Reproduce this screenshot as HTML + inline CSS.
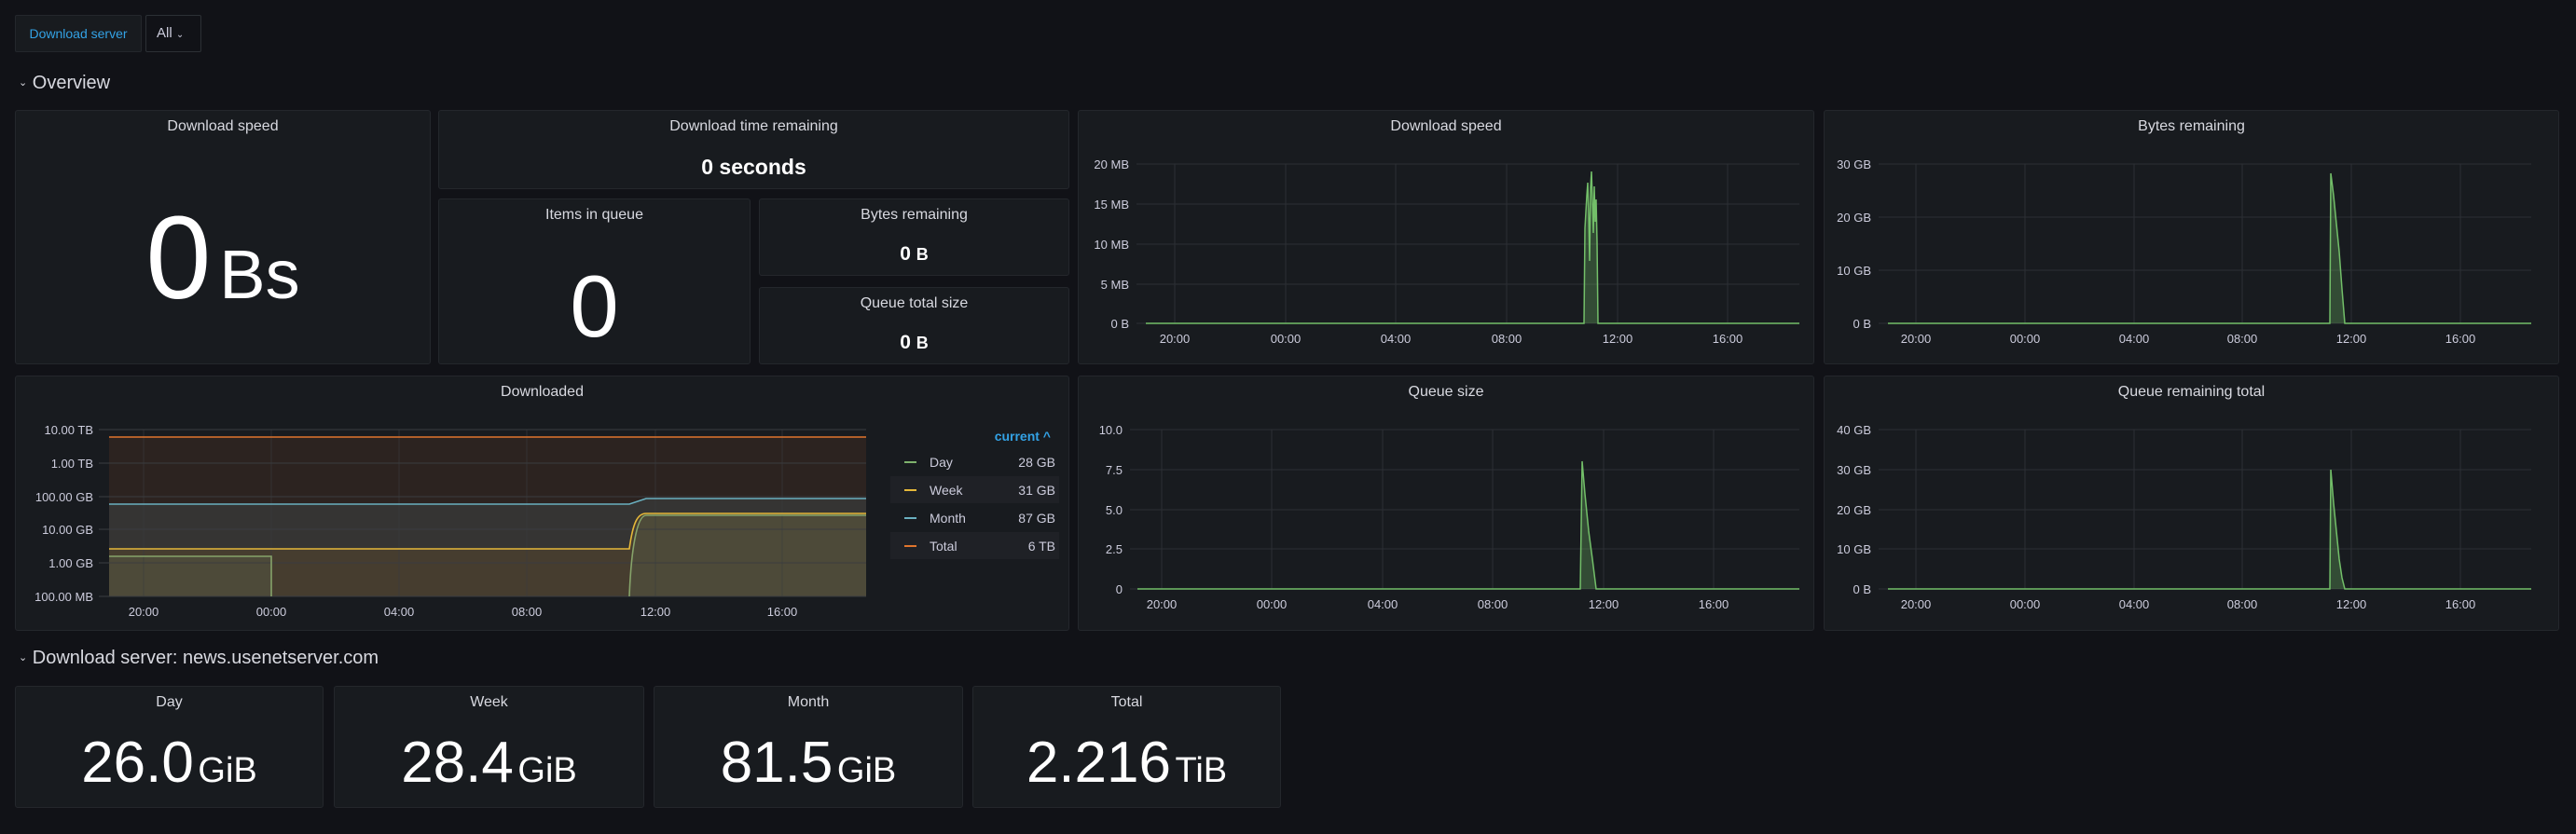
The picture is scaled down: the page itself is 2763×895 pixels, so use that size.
<!DOCTYPE html>
<html><head><meta charset="utf-8"><style>
*{margin:0;padding:0;box-sizing:border-box}
body{width:2763px;height:895px;background:#111217;font-family:"Liberation Sans",sans-serif;color:#ccccdc;position:relative;overflow:hidden}
.p{position:absolute;background:#181b1f;border:1px solid #24272c;border-radius:3px}
.t{position:absolute;left:0;right:0;text-align:center;font-size:16px;color:#d8d9e0}
.v{position:absolute;left:0;right:0;text-align:center;color:#fff;white-space:nowrap}
.a{position:absolute;white-space:nowrap}
.u{margin-left:0.12em}
</style></head><body>
<div class="a" style="left:16px;top:16px;width:136px;height:40px;background:#181b1f;border:1px solid #24272c;border-radius:2px;color:#33a2e5;font-size:14px;line-height:38px;text-align:center">Download server</div>
<div class="a" style="left:156px;top:16px;width:60px;height:40px;background:#111217;border:1px solid #2c3035;border-radius:2px;color:#ccccdc;font-size:15px;line-height:38px;padding-left:11px">All <span style="font-size:10px">&#8964;</span></div>
<div class="a" style="left:20px;top:78px;font-size:20px;color:#d8d9e0"><span style="font-size:11px;vertical-align:3px">&#8964;</span> Overview</div>
<div class="a" style="left:20px;top:695px;font-size:20px;color:#d8d9e0"><span style="font-size:11px;vertical-align:3px">&#8964;</span> Download server: news.usenetserver.com</div>

<div class="p" style="left:16px;top:118px;width:446px;height:273px"><div class="t" style="top:8px">Download speed</div>
<div class="v" style="top:88px;font-size:126px;line-height:140px">0<span class="u" style="font-size:74px">Bs</span></div></div>
<div class="p" style="left:470px;top:118px;width:677px;height:85px"><div class="t" style="top:8px">Download time remaining</div>
<div class="v" style="top:47px;font-size:23px;font-weight:bold">0 seconds</div></div>
<div class="p" style="left:470px;top:213px;width:335px;height:178px"><div class="t" style="top:8px">Items in queue</div>
<div class="v" style="top:60px;font-size:94px;line-height:110px">0</div></div>
<div class="p" style="left:814px;top:213px;width:333px;height:83px"><div class="t" style="top:8px">Bytes remaining</div>
<div class="v" style="top:47px;font-size:21px;font-weight:bold">0 <span style="font-size:18px">B</span></div></div>
<div class="p" style="left:814px;top:308px;width:333px;height:83px"><div class="t" style="top:8px">Queue total size</div>
<div class="v" style="top:47px;font-size:21px;font-weight:bold">0 <span style="font-size:18px">B</span></div></div>
<div class="p" style="left:1156px;top:118px;width:790px;height:273px"><div class="t" style="top:8px">Download speed</div></div>
<div class="p" style="left:1956px;top:118px;width:789px;height:273px"><div class="t" style="top:8px">Bytes remaining</div></div>
<div class="p" style="left:16px;top:403px;width:1131px;height:274px"><div class="t" style="top:8px">Downloaded</div></div>
<div class="p" style="left:1156px;top:403px;width:790px;height:274px"><div class="t" style="top:8px">Queue size</div></div>
<div class="p" style="left:1956px;top:403px;width:789px;height:274px"><div class="t" style="top:8px">Queue remaining total</div></div>

<div class="p" style="left:16px;top:736px;width:331px;height:131px"><div class="t" style="top:8px">Day</div><div class="v" style="top:47px;font-size:62px;line-height:70px">26.0<span class="u" style="font-size:38px">GiB</span></div></div>
<div class="p" style="left:358px;top:736px;width:333px;height:131px"><div class="t" style="top:8px">Week</div><div class="v" style="top:47px;font-size:62px;line-height:70px">28.4<span class="u" style="font-size:38px">GiB</span></div></div>
<div class="p" style="left:701px;top:736px;width:332px;height:131px"><div class="t" style="top:8px">Month</div><div class="v" style="top:47px;font-size:62px;line-height:70px">81.5<span class="u" style="font-size:38px">GiB</span></div></div>
<div class="p" style="left:1043px;top:736px;width:331px;height:131px"><div class="t" style="top:8px">Total</div><div class="v" style="top:47px;font-size:62px;line-height:70px">2.216<span class="u" style="font-size:38px">TiB</span></div></div>

<svg width="2763" height="895" style="position:absolute;left:0;top:0" font-family="Liberation Sans, sans-serif" font-size="13" fill="#ccccdc">
<g stroke="#2c2f34" stroke-width="1">
<path d="M1219 176H1930M1219 219H1930M1219 262H1930M1219 305H1930M1219 347H1930"/>
<path d="M1260 176V347M1379 176V347M1497 176V347M1616 176V347M1735 176V347M1853 176V347"/>
<path d="M2015 176H2715M2015 233H2715M2015 290H2715M2015 347H2715"/>
<path d="M2055 176V347M2172 176V347M2289 176V347M2405 176V347M2522 176V347M2639 176V347"/>
<path d="M1212 461H1930M1212 504H1930M1212 547H1930M1212 589H1930M1212 632H1930"/>
<path d="M1246 461V632M1364 461V632M1483 461V632M1601 461V632M1720 461V632M1838 461V632"/>
<path d="M2015 461H2715M2015 504H2715M2015 547H2715M2015 589H2715M2015 632H2715"/>
<path d="M2055 461V632M2172 461V632M2289 461V632M2405 461V632M2522 461V632M2639 461V632"/>
</g>
<rect x="117" y="469" width="812" height="171" fill="#2c2320"/>
<path d="M117 541H675L693 535H929V640H117Z" fill="#353433"/>
<path d="M117 589H675C679 560 684 551 693 551H929V640H117Z" fill="#463d2f"/>
<path d="M117 597H291V640H117Z M675 640C677 590 683 553 693 553H929V640Z" fill="#4d4a39"/>
<g stroke="#3a3c40" stroke-width="1" fill="none">
<path d="M106 461H929M106 497H929M106 533H929M106 568H929M106 604H929M106 640H929"/>
<path d="M154 461V640M291 461V640M428 461V640M565 461V640M703 461V640M839 461V640" stroke-opacity="0.6"/>
</g>
<g fill="none" stroke-width="1.6">
<path d="M117 469H929" stroke="#e0752d"/>
<path d="M117 541H675L693 535H929" stroke="#6ab0c0"/>
<path d="M117 589H675C679 560 684 551 693 551H929" stroke="#e5b83a"/>
<path d="M117 597H291V640M675 640C677 590 683 553 693 553H929" stroke="#86a36a"/>
</g>
<g text-anchor="end" font-size="13">
<text x="100" y="466">10.00 TB</text><text x="100" y="502">1.00 TB</text><text x="100" y="538">100.00 GB</text><text x="100" y="573">10.00 GB</text><text x="100" y="609">1.00 GB</text><text x="100" y="645">100.00 MB</text>
<text x="1211" y="181">20 MB</text><text x="1211" y="224">15 MB</text><text x="1211" y="267">10 MB</text><text x="1211" y="310">5 MB</text><text x="1211" y="352">0 B</text>
<text x="2007" y="181">30 GB</text><text x="2007" y="238">20 GB</text><text x="2007" y="295">10 GB</text><text x="2007" y="352">0 B</text>
<text x="1204" y="466">10.0</text><text x="1204" y="509">7.5</text><text x="1204" y="552">5.0</text><text x="1204" y="594">2.5</text><text x="1204" y="637">0</text>
<text x="2007" y="466">40 GB</text><text x="2007" y="509">30 GB</text><text x="2007" y="552">20 GB</text><text x="2007" y="594">10 GB</text><text x="2007" y="637">0 B</text>
</g>
<g text-anchor="middle" font-size="13">
<text x="154" y="661">20:00</text><text x="291" y="661">00:00</text><text x="428" y="661">04:00</text><text x="565" y="661">08:00</text><text x="703" y="661">12:00</text><text x="839" y="661">16:00</text>
<text x="1260" y="368">20:00</text><text x="1379" y="368">00:00</text><text x="1497" y="368">04:00</text><text x="1616" y="368">08:00</text><text x="1735" y="368">12:00</text><text x="1853" y="368">16:00</text>
<text x="2055" y="368">20:00</text><text x="2172" y="368">00:00</text><text x="2289" y="368">04:00</text><text x="2405" y="368">08:00</text><text x="2522" y="368">12:00</text><text x="2639" y="368">16:00</text>
<text x="1246" y="653">20:00</text><text x="1364" y="653">00:00</text><text x="1483" y="653">04:00</text><text x="1601" y="653">08:00</text><text x="1720" y="653">12:00</text><text x="1838" y="653">16:00</text>
<text x="2055" y="653">20:00</text><text x="2172" y="653">00:00</text><text x="2289" y="653">04:00</text><text x="2405" y="653">08:00</text><text x="2522" y="653">12:00</text><text x="2639" y="653">16:00</text>
</g>
<g stroke="#73bf69" stroke-width="1.5" fill="rgba(115,191,105,0.3)">
<path d="M1229 347H1699L1700 245L1702 210L1703 196L1704 230L1705 280L1706 202L1707 184L1708 215L1709 250L1710 200L1711 238L1712 214L1713 260L1714 347H1930"/>
<path d="M2025 347H2499L2500 186L2503 210L2506 240L2509 270L2512 310L2515 347H2715"/>
<path d="M1220 632H1695L1697 495L1700 530L1704 570L1708 600L1712 632H1930"/>
<path d="M2025 632H2499L2500 504L2503 540L2506 570L2509 600L2512 620L2515 632H2715"/>
</g>
<text x="1127" y="473" text-anchor="end" fill="#33a2e5" font-size="14" font-weight="bold">current ^</text>
<rect x="955" y="511" width="181" height="29" fill="#1f2126"/>
<rect x="955" y="571" width="181" height="29" fill="#1f2126"/>
<g stroke-width="2"><path d="M970 496H983" stroke="#7eb26d"/><path d="M970 526H983" stroke="#e5b83a"/><path d="M970 556H983" stroke="#6ab0c0"/><path d="M970 586H983" stroke="#e0752d"/></g>
<g font-size="14"><text x="997" y="501">Day</text><text x="997" y="531">Week</text><text x="997" y="561">Month</text><text x="997" y="591">Total</text></g>
<g font-size="14" text-anchor="end"><text x="1132" y="501">28 GB</text><text x="1132" y="531">31 GB</text><text x="1132" y="561">87 GB</text><text x="1132" y="591">6 TB</text></g>
</svg>
</body></html>
